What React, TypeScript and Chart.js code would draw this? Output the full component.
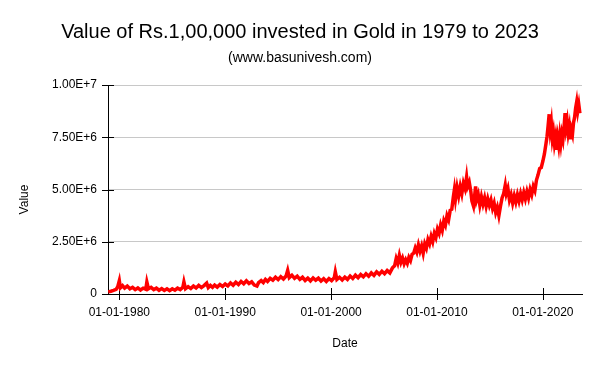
import React, { useEffect, useRef } from 'react';
import { Chart, registerables } from 'chart.js';

Chart.register(...registerables);

// Decimal years (dates) of the sampled points
const dates: number[] = [
  1978.95, 1979.2, 1979.45, 1979.7, 1979.85, 1980.0, 1980.1, 1980.3, 1980.5, 1980.75,
  1981.0, 1981.25, 1981.5, 1981.75, 1982.0, 1982.25, 1982.5, 1982.6, 1982.75, 1983.0,
  1983.25, 1983.5, 1983.75, 1984.0, 1984.25, 1984.5, 1984.75, 1985.0, 1985.25, 1985.5,
  1985.75, 1986.0, 1986.1, 1986.25, 1986.5, 1986.75, 1987.0, 1987.25, 1987.5, 1987.75,
  1988.0, 1988.25, 1988.4, 1988.6, 1988.8, 1989.0, 1989.25, 1989.5, 1989.75, 1990.0,
  1990.25, 1990.5, 1990.75, 1991.0, 1991.25, 1991.5, 1991.75, 1992.0, 1992.25, 1992.5,
  1992.75, 1993.0, 1993.15, 1993.4, 1993.6, 1993.8, 1994.0, 1994.25, 1994.5, 1994.75,
  1995.0, 1995.25, 1995.5, 1995.75, 1995.9, 1996.05, 1996.3, 1996.55, 1996.8, 1997.05,
  1997.3, 1997.55, 1997.8, 1998.05, 1998.3, 1998.55, 1998.8, 1999.05, 1999.3, 1999.55,
  1999.8, 2000.05, 2000.3, 2000.4, 2000.55, 2000.8, 2001.05, 2001.3, 2001.55, 2001.8,
  2002.05, 2002.3, 2002.55, 2002.8, 2003.05, 2003.3, 2003.55, 2003.8, 2004.05, 2004.3,
  2004.55, 2004.8, 2005.05, 2005.3, 2005.55, 2005.8, 2006.0, 2006.15, 2006.3, 2006.45,
  2006.6, 2006.75, 2006.9, 2007.05, 2007.2, 2007.35, 2007.5, 2007.65, 2007.8, 2007.95,
  2008.1, 2008.25, 2008.4, 2008.55, 2008.7, 2008.85, 2009.0, 2009.15, 2009.3, 2009.45,
  2009.6, 2009.75, 2009.9, 2010.05, 2010.2, 2010.35, 2010.5, 2010.65, 2010.8, 2010.95,
  2011.1, 2011.25, 2011.4, 2011.55, 2011.65, 2011.75, 2011.9, 2012.05, 2012.2, 2012.35,
  2012.5, 2012.65, 2012.8, 2012.9, 2013.05, 2013.2, 2013.3, 2013.45, 2013.55, 2013.65,
  2013.75, 2013.9, 2014.05, 2014.2, 2014.35, 2014.5, 2014.65, 2014.8, 2014.95, 2015.1,
  2015.25, 2015.4, 2015.55, 2015.7, 2015.85, 2016.0, 2016.15, 2016.3, 2016.45, 2016.55,
  2016.7, 2016.85, 2017.0, 2017.15, 2017.3, 2017.45, 2017.6, 2017.75, 2017.9, 2018.05,
  2018.2, 2018.35, 2018.5, 2018.65, 2018.8, 2018.95, 2019.1, 2019.25, 2019.4, 2019.55,
  2019.7, 2019.85, 2020.0, 2020.15, 2020.3, 2020.4, 2020.5, 2020.6, 2020.7, 2020.8,
  2020.9, 2021.0, 2021.1, 2021.2, 2021.3, 2021.4, 2021.5, 2021.6, 2021.7, 2021.8,
  2021.9, 2022.0, 2022.1, 2022.2, 2022.3, 2022.4, 2022.5, 2022.6, 2022.7, 2022.8,
  2022.9, 2023.0, 2023.1, 2023.2, 2023.3, 2023.4, 2023.5,
];

// Value (Rs.) of the investment at each date
const values: number[] = [
  100000, 130000, 170000, 220000, 350000, 640000, 300000, 400000, 280000, 380000,
  250000, 320000, 210000, 290000, 190000, 280000, 230000, 570000, 250000, 320000,
  210000, 280000, 180000, 260000, 170000, 250000, 160000, 250000, 180000, 280000,
  210000, 320000, 580000, 250000, 350000, 260000, 380000, 290000, 410000, 310000,
  400000, 520000, 310000, 410000, 320000, 430000, 330000, 450000, 360000, 480000,
  390000, 530000, 420000, 560000, 450000, 600000, 490000, 630000, 500000, 580000,
  430000, 380000, 540000, 640000, 550000, 700000, 600000, 750000, 660000, 800000,
  690000, 830000, 720000, 860000, 1130000, 780000, 900000, 750000, 850000, 700000,
  800000, 650000, 760000, 630000, 770000, 660000, 760000, 620000, 730000, 600000,
  740000, 640000, 780000, 1060000, 690000, 800000, 670000, 810000, 700000, 860000,
  740000, 900000, 780000, 930000, 820000, 970000, 850000, 1010000, 890000, 1060000,
  940000, 1090000, 970000, 1120000, 1010000, 1250000, 1350000, 1700000, 1480000, 1850000,
  1520000, 1720000, 1450000, 1640000, 1470000, 1750000, 1600000, 1900000, 1950000, 2200000,
  2000000, 2350000, 2050000, 2300000, 1950000, 2400000, 2200000, 2600000, 2400000, 2750000,
  2500000, 2900000, 2700000, 3100000, 2900000, 3300000, 3050000, 3500000, 3300000, 3750000,
  3550000, 4000000, 4050000, 4650000, 5000000, 4550000, 5100000, 4700000, 5150000, 4800000,
  5300000, 5050000, 5600000, 5150000, 5350000, 4900000, 4450000, 4200000, 4650000, 5150000,
  4500000, 4750000, 4250000, 4650000, 4300000, 4600000, 4200000, 4550000, 4250000, 4500000,
  4100000, 4350000, 3900000, 4150000, 3750000, 4200000, 4600000, 4800000, 5200000, 4800000,
  5050000, 4500000, 4750000, 4350000, 4700000, 4400000, 4750000, 4450000, 4800000, 4500000,
  4850000, 4550000, 4900000, 4600000, 5000000, 4750000, 5150000, 4950000, 5450000, 5700000,
  6000000, 6050000, 6350000, 6700000, 7200000, 7550000, 8050000, 8600000, 7850000, 8200000,
  7450000, 7750000, 7200000, 7500000, 6900000, 7450000, 7100000, 7600000, 7200000, 7650000,
  7400000, 7950000, 8650000, 7950000, 8250000, 7700000, 8000000, 7400000, 7850000, 7650000,
  8200000, 8450000, 8900000, 9200000, 8750000, 9050000, 8650000,
];

const xTickYears: number[] = [1980, 1990, 2000, 2010, 2020];
const xTickLabels: string[] = ['01-01-1980', '01-01-1990', '01-01-2000', '01-01-2010', '01-01-2020'];
const yTickValues: number[] = [0, 2500000, 5000000, 7500000, 10000000];
const yTickLabels: string[] = ['0', '2.50E+6', '5.00E+6', '7.50E+6', '1.00E+7'];

const titleText = 'Value of Rs.1,00,000 invested in Gold in 1979 to 2023';
const subtitleText = '(www.basunivesh.com)';
const xTitle = 'Date';
const yTitle = 'Value';

const FONT = "'Liberation Sans', Arial, Helvetica, sans-serif";

export default function App() {
  const ref = useRef<HTMLCanvasElement>(null);

  useEffect(() => {
    if (!ref.current) return;
    Chart.defaults.font.family = FONT;
    Chart.defaults.color = '#000';

    const decorations = {
      id: 'decorations',
      beforeDatasetsDraw(chart: any) {
        const { ctx, chartArea, scales } = chart;
        ctx.save();
        ctx.strokeStyle = '#000';
        ctx.lineWidth = 1;
        ctx.beginPath();
        for (const v of yTickValues) {
          const y = Math.round(scales.y.getPixelForValue(v)) + 0.5;
          ctx.moveTo(chartArea.left - 6, y);
          ctx.lineTo(chartArea.left + 6, y);
        }
        for (const v of xTickYears) {
          const x = Math.round(scales.x.getPixelForValue(v)) + 0.5;
          ctx.moveTo(x, chartArea.bottom - 6);
          ctx.lineTo(x, chartArea.bottom + 6);
        }
        ctx.stroke();
        ctx.restore();
      },
      afterDraw(chart: any) {
        const { ctx, chartArea } = chart;
        ctx.save();
        ctx.fillStyle = '#000';
        ctx.textAlign = 'center';
        ctx.textBaseline = 'middle';
        // Title and subtitle centred on the full canvas
        ctx.font = `20px ${FONT}`;
        ctx.fillText(titleText, chart.width / 2, 32);
        ctx.font = `14px ${FONT}`;
        ctx.fillText(subtitleText, chart.width / 2, 58.5);
        // Y axis title
        ctx.font = `12px ${FONT}`;
        ctx.translate(chartArea.left - 83, (chartArea.top + chartArea.bottom) / 2 + 10);
        ctx.rotate(-Math.PI / 2);
        ctx.fillText(yTitle, 0, 0);
        ctx.restore();
      },
    };

    const chart = new Chart(ref.current, {
      type: 'line',
      data: {
        datasets: [
          {
            label: 'Value',
            data: dates.map((d, i) => ({ x: d, y: values[i] })),
            borderColor: '#ff0000',
            backgroundColor: '#ff0000',
            borderWidth: 3.5,
            pointRadius: 0,
            tension: 0,
            fill: false,
          },
        ],
      },
      options: {
        responsive: false,
        animation: false,
        layout: { padding: { top: 85, right: 18, bottom: 0, left: 0 } },
        plugins: {
          legend: { display: false },
          tooltip: { enabled: false },
          title: { display: false },
          subtitle: { display: false },
        },
        scales: {
          x: {
            type: 'linear',
            min: 1978.93,
            max: 2023.7,
            grid: { display: false, drawTicks: false, tickLength: 0 },
            border: { display: true, color: '#000', width: 1 },
            ticks: {
              autoSkip: false,
              maxRotation: 0,
              padding: 11,
              color: '#000',
              font: { size: 12 },
              callback: (v: any) => {
                const i = xTickYears.indexOf(Number(v));
                return i >= 0 ? xTickLabels[i] : '';
              },
            },
            afterBuildTicks: (scale: any) => {
              scale.ticks = xTickYears.map((v) => ({ value: v }));
            },
            afterFit: (scale: any) => {
              scale.height = 77;
            },
            title: {
              display: true,
              text: xTitle,
              color: '#000',
              font: { size: 12 },
              padding: { top: 0, bottom: 20 },
            },
          },
          y: {
            type: 'linear',
            min: 0,
            max: 10000000,
            grid: {
              drawTicks: false,
              tickLength: 0,
              color: (ctx: any) => (ctx.tick && ctx.tick.value === 0 ? 'rgba(0,0,0,0)' : '#c8c8c8'),
              lineWidth: 1,
            },
            border: { display: true, color: '#000', width: 1 },
            ticks: {
              padding: 11,
              color: '#000',
              font: { size: 12 },
              callback: (v: any) => {
                const i = yTickValues.indexOf(Number(v));
                return i >= 0 ? yTickLabels[i] : '';
              },
            },
            afterBuildTicks: (scale: any) => {
              scale.ticks = yTickValues.map((v) => ({ value: v }));
            },
            afterFit: (scale: any) => {
              scale.width = 108;
            },
          },
        },
      },
      plugins: [decorations],
    } as any);

    return () => chart.destroy();
  }, []);

  return (
    <div style={{ position: 'fixed', left: 0, top: 0, width: 600, height: 371, background: '#fff' }}>
      <canvas ref={ref} width={600} height={371} style={{ display: 'block' }} />
    </div>
  );
}
